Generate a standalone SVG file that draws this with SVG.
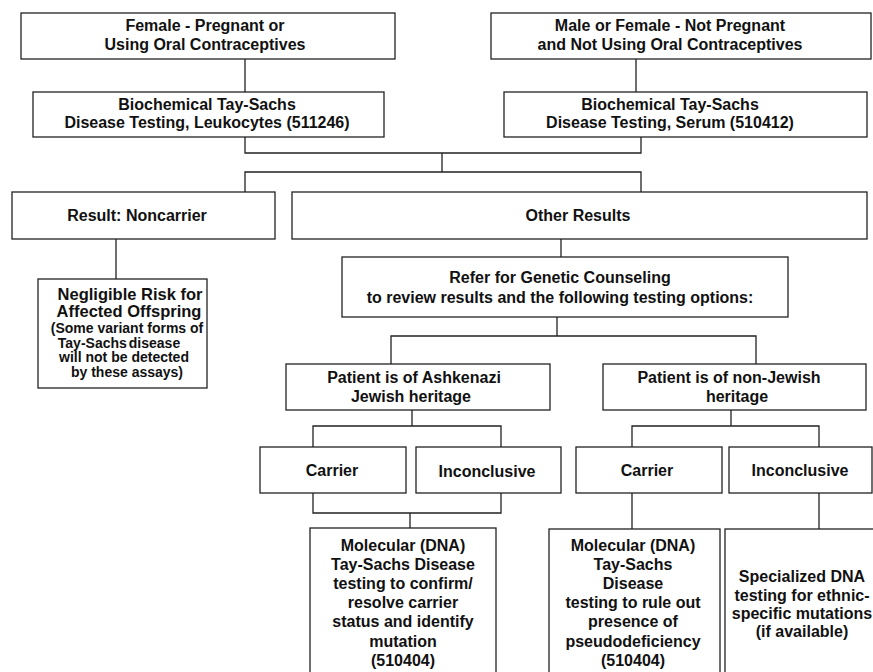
<svg xmlns="http://www.w3.org/2000/svg" width="873" height="672" viewBox="0 0 873 672">
<style>
rect{fill:#fff;stroke:#222;stroke-width:1.3}
.c path{fill:none;stroke:#222;stroke-width:1.3}
text{font-family:"Liberation Sans",Arial,sans-serif;font-weight:bold;font-size:16px;fill:#111;text-anchor:middle}
.b{font-size:16.5px}
.s{font-size:14px}
</style>
<rect x="0" y="0" width="873" height="672" style="stroke:none"/>
<g class="c" id="connectors">
<path d="M245 59V92M636 59V92"/>
<path d="M245 137V153H641V137M442 153V172M245 192V172H641V192"/>
<path d="M116 239V279M561 239V257"/>
<path d="M557 317V336M391 364V336H756V364"/>
<path d="M412 410V426M313 447V426H501V447"/>
<path d="M313 493V513H501V493M410 513V528"/>
<path d="M731 410V426M632 447V426H819V447"/>
<path d="M632 493V529M819 493V529"/>
</g>
<g id="n1"><rect x="21" y="13" width="374" height="46"/><text x="205" y="31">Female - Pregnant or</text><text x="205" y="50">Using Oral Contraceptives</text></g>
<g id="n2"><rect x="491" y="13" width="380" height="46"/><text x="670" y="31">Male or Female - Not Pregnant</text><text x="670" y="50">and Not Using Oral Contraceptives</text></g>
<g id="n3"><rect x="33" y="92" width="351" height="45"/><text x="207" y="110">Biochemical Tay-Sachs</text><text x="207" y="128">Disease Testing, Leukocytes (511246)</text></g>
<g id="n4"><rect x="504" y="92" width="363" height="45"/><text x="670" y="110">Biochemical Tay-Sachs</text><text x="670" y="128">Disease Testing, Serum (510412)</text></g>
<g id="n5"><rect x="12" y="192" width="263" height="47"/><text x="137" y="221">Result: Noncarrier</text></g>
<g id="n6"><rect x="292" y="192" width="575" height="47"/><text x="578" y="221">Other Results</text></g>
<g id="n7"><rect x="38" y="279" width="169" height="109"/><text class="b" x="130" y="300">Negligible Risk for</text><text class="b" x="129" y="317">Affected Offspring</text><text class="s" x="127" y="333">(Some variant forms of</text><text class="s" x="119" y="347.5">Tay-Sachs<tspan dx="2">disease</tspan></text><text class="s" x="124" y="362">will not be detected</text><text class="s" x="127" y="376.5">by these assays)</text></g>
<g id="n8"><rect x="342" y="257" width="446" height="60"/><text x="560" y="283">Refer for Genetic Counseling</text><text x="560" y="303">to review results and the following testing options:</text></g>
<g id="n9"><rect x="286" y="364" width="264" height="46"/><text x="414" y="383">Patient is of Ashkenazi</text><text x="411" y="402">Jewish heritage</text></g>
<g id="n10"><rect x="603" y="364" width="263" height="46"/><text x="729" y="383">Patient is of non-Jewish</text><text x="737" y="402">heritage</text></g>
<g id="n11"><rect x="260" y="447" width="146" height="46"/><text x="332" y="476">Carrier</text></g>
<g id="n12"><rect x="416" y="447" width="145" height="46"/><text x="487" y="477">Inconclusive</text></g>
<g id="n13"><rect x="576" y="447" width="146" height="46"/><text x="647" y="476">Carrier</text></g>
<g id="n14"><rect x="729" y="447" width="143" height="46"/><text x="800" y="476">Inconclusive</text></g>
<g id="n15"><rect x="310" y="528" width="186" height="160"/><text x="403" y="551">Molecular (DNA)</text><text x="403" y="570">Tay-Sachs Disease</text><text x="403" y="589">testing to confirm/</text><text x="403" y="608">resolve carrier</text><text x="403" y="627">status and identify</text><text x="403" y="647">mutation</text><text x="403" y="666">(510404)</text></g>
<g id="n16"><rect x="549" y="529" width="171" height="160"/><text x="633" y="551">Molecular (DNA)</text><text x="633" y="570">Tay-Sachs</text><text x="633" y="589">Disease</text><text x="633" y="608">testing to rule out</text><text x="633" y="627">presence of</text><text x="633" y="647">pseudodeficiency</text><text x="633" y="666">(510404)</text></g>
<g id="n17"><rect x="725" y="529" width="160" height="160"/><text x="802" y="582">Specialized DNA</text><text x="802" y="601">testing for ethnic-</text><text x="802" y="619">specific mutations</text><text x="802" y="637">(if available)</text></g>
</svg>
